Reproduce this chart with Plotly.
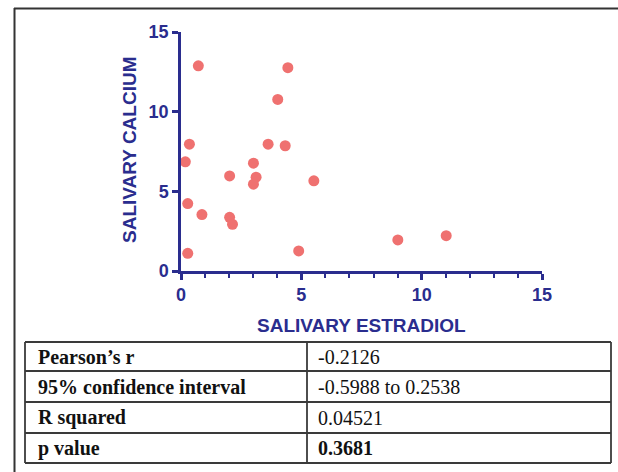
import plotly.graph_objects as go

# ---- data ----
estradiol = [0.72, 4.44, 4.02, 0.35, 3.62, 4.33, 0.18, 3.01, 2.02, 3.12,
             3.01, 5.52, 0.28, 0.87, 2.02, 2.14, 0.28, 4.89, 9.01, 11.02]
calcium = [12.88, 12.76, 10.77, 7.96, 7.96, 7.86, 6.85, 6.77, 5.97, 5.89,
           5.45, 5.66, 4.23, 3.54, 3.37, 2.93, 1.11, 1.26, 1.95, 2.22]
x_title = "SALIVARY ESTRADIOL"
y_title = "SALIVARY CALCIUM"
tick_vals = [0, 5, 10, 15]
stat_labels = ["Pearson’s r", "95% confidence interval", "R squared", "p value"]
stat_values = ["-0.2126", "-0.5988 to 0.2538", "0.04521", "0.3681"]
stat_bold = [False, False, False, True]

# ---- layout geometry (pixels) ----
W, H = 618, 472
L, R, T, B = 181, 76, 32, 201
PW, PH = W - L - R, H - T - B
NAVY = "#2a2d8e"
DOT = "#ef7170"


def px(x):
    return (x - L) / PW


def py(y):
    return (H - B - y) / PH


fig = go.Figure()
fig.add_trace(go.Scatter(
    x=estradiol, y=calcium, mode="markers",
    marker=dict(size=11, color=DOT, line=dict(width=0)),
    cliponaxis=False, showlegend=False, hoverinfo="x+y"))

axis_common = dict(
    range=[0, 15], tickvals=tick_vals, showgrid=False, zeroline=False,
    showline=True, linecolor=NAVY, linewidth=2.5,
    ticks="outside", ticklen=6, tickwidth=2.5, tickcolor=NAVY,
    tickfont=dict(family="Liberation Sans", size=18, color=NAVY, weight="bold"),
    fixedrange=True)

fig.update_xaxes(**axis_common,
                 minor=dict(dtick=1, ticks="outside", ticklen=4, tickwidth=2,
                            tickcolor=NAVY, showgrid=False))
fig.update_yaxes(**axis_common)

shapes = []
annotations = []

# frame lines
shapes.append(dict(type="line", xref="paper", yref="paper",
                   x0=px(14), x1=px(W), y0=py(8.5), y1=py(8.5),
                   line=dict(color="#333333", width=2.2)))
shapes.append(dict(type="line", xref="paper", yref="paper",
                   x0=px(14.5), x1=px(14.5), y0=py(8), y1=py(H),
                   line=dict(color="#333333", width=2)))

# axis titles
annotations.append(dict(text=x_title, xref="paper", yref="paper",
                        x=px(361), y=py(325), showarrow=False,
                        xanchor="center", yanchor="middle",
                        font=dict(family="Liberation Sans", size=19, color=NAVY, weight="bold")))
annotations.append(dict(text=y_title, xref="paper", yref="paper",
                        x=px(129), y=py(150), showarrow=False, textangle=-90,
                        xanchor="center", yanchor="middle",
                        font=dict(family="Liberation Sans", size=19, color=NAVY, weight="bold")))

# table
tl, tr, tc = 25, 611, 307
rows = [342, 371, 402, 433, 463]
line_style = dict(color="#3a3a3a", width=1.8)
for yy in rows:
    shapes.append(dict(type="line", xref="paper", yref="paper",
                       x0=px(tl), x1=px(tr), y0=py(yy), y1=py(yy), line=line_style))
for xx in (tl, tc, tr):
    shapes.append(dict(type="line", xref="paper", yref="paper",
                       x0=px(xx), x1=px(xx), y0=py(rows[0]), y1=py(rows[-1]), line=line_style))

for i, (lab, val, bold) in enumerate(zip(stat_labels, stat_values, stat_bold)):
    yc = (rows[i] + rows[i + 1]) / 2
    annotations.append(dict(text=lab, xref="paper", yref="paper",
                            x=px(36), y=py(yc), showarrow=False,
                            xanchor="left", yanchor="middle",
                            font=dict(family="Liberation Serif", size=20, color="#111111", weight="bold")))
    annotations.append(dict(text=val, xref="paper", yref="paper",
                            x=px(316), y=py(yc), showarrow=False,
                            xanchor="left", yanchor="middle",
                            font=dict(family="Liberation Serif", size=20, color="#111111",
                                      weight="bold" if bold else "normal")))

fig.update_layout(
    width=W, height=H,
    margin=dict(l=L, r=R, t=T, b=B, autoexpand=False),
    paper_bgcolor="white", plot_bgcolor="white",
    shapes=shapes, annotations=annotations,
    showlegend=False)

fig.write_html("out.html", config={"displayModeBar": False},
               post_script="document.body.style.margin='0';document.body.style.overflow='hidden';")
